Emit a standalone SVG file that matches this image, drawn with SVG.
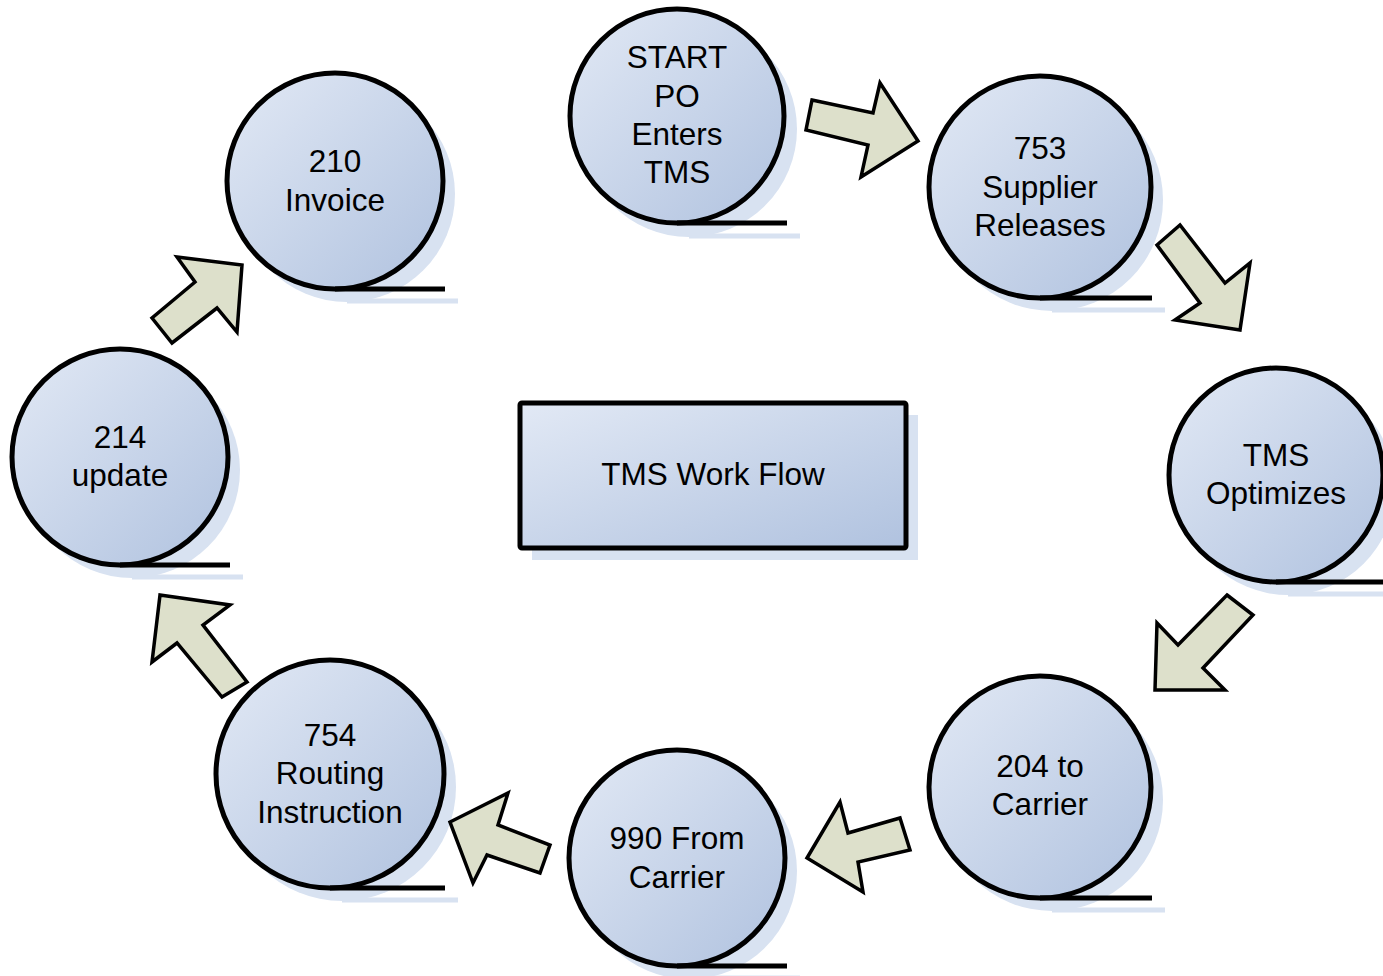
<svg xmlns="http://www.w3.org/2000/svg" width="1383" height="976" viewBox="0 0 1383 976">
<defs>
<linearGradient id="g" x1="0" y1="0" x2="1" y2="1">
<stop offset="0" stop-color="#e2e9f5"/>
<stop offset="1" stop-color="#b0c2df"/>
</linearGradient>
</defs>
<style>
.sh{fill:#d8e2f1;stroke:none}
.shl{stroke:#d8e2f1;stroke-width:5;fill:none}
.c{fill:url(#g);stroke:#000;stroke-width:5}
.l{stroke:#000;stroke-width:5;fill:none}
.t{font-family:"Liberation Sans",Arial,sans-serif;font-size:31.5px;fill:#000;text-anchor:middle}
.a{fill:#dde0cb;stroke:#000;stroke-width:3.5;stroke-linejoin:miter}
</style>
<rect width="1383" height="976" fill="#fff"/>

<g id="node-box">
<rect class="sh" x="532" y="415" width="386" height="145"/>
<rect class="c" x="520" y="403" width="386" height="145" rx="2"/>
<text class="t" x="713" y="485">TMS Work Flow</text>
</g>

<g id="node-start">
<circle class="sh" cx="689" cy="129" r="108"/>
<line class="shl" x1="689" y1="236" x2="800" y2="236"/>
<circle class="c" cx="677" cy="116" r="107"/>
<line class="l" x1="677" y1="223" x2="787" y2="223"/>
<text class="t" x="677" y="68">START</text>
<text class="t" x="677" y="107">PO</text>
<text class="t" x="677" y="145">Enters</text>
<text class="t" x="677" y="183">TMS</text>
</g>

<g id="node-753">
<circle class="sh" cx="1052" cy="200" r="111"/>
<line class="shl" x1="1052" y1="310" x2="1165" y2="310"/>
<circle class="c" cx="1040" cy="187" r="111"/>
<line class="l" x1="1040" y1="298" x2="1152" y2="298"/>
<text class="t" x="1040" y="159">753</text>
<text class="t" x="1040" y="198">Supplier</text>
<text class="t" x="1040" y="236">Releases</text>
</g>

<g id="node-tms">
<circle class="sh" cx="1288" cy="488" r="107"/>
<line class="shl" x1="1288" y1="594" x2="1395" y2="594"/>
<circle class="c" cx="1276" cy="475" r="107"/>
<line class="l" x1="1276" y1="582" x2="1385" y2="582"/>
<text class="t" x="1276" y="466">TMS</text>
<text class="t" x="1276" y="504">Optimizes</text>
</g>

<g id="node-204">
<circle class="sh" cx="1052" cy="800" r="111"/>
<line class="shl" x1="1052" y1="910" x2="1165" y2="910"/>
<circle class="c" cx="1040" cy="787" r="111"/>
<line class="l" x1="1040" y1="898" x2="1152" y2="898"/>
<text class="t" x="1040" y="777">204 to</text>
<text class="t" x="1040" y="815">Carrier</text>
</g>

<g id="node-990">
<circle class="sh" cx="689" cy="871" r="108"/>
<line class="shl" x1="689" y1="978" x2="800" y2="978"/>
<circle class="c" cx="677" cy="858" r="108"/>
<line class="l" x1="677" y1="966" x2="787" y2="966"/>
<text class="t" x="677" y="849">990 From</text>
<text class="t" x="677" y="888">Carrier</text>
</g>

<g id="node-754">
<circle class="sh" cx="342" cy="787" r="114"/>
<line class="shl" x1="342" y1="900" x2="458" y2="900"/>
<circle class="c" cx="330" cy="774" r="114"/>
<line class="l" x1="330" y1="888" x2="445" y2="888"/>
<text class="t" x="330" y="746">754</text>
<text class="t" x="330" y="784">Routing</text>
<text class="t" x="330" y="823">Instruction</text>
</g>

<g id="node-214">
<circle class="sh" cx="132" cy="470" r="108"/>
<line class="shl" x1="132" y1="577" x2="243" y2="577"/>
<circle class="c" cx="120" cy="457" r="108"/>
<line class="l" x1="120" y1="565" x2="230" y2="565"/>
<text class="t" x="120" y="448">214</text>
<text class="t" x="120" y="486">update</text>
</g>

<g id="node-210">
<circle class="sh" cx="347" cy="194" r="108"/>
<line class="shl" x1="347" y1="301" x2="458" y2="301"/>
<circle class="c" cx="335" cy="181" r="108"/>
<line class="l" x1="335" y1="289" x2="445" y2="289"/>
<text class="t" x="335" y="172">210</text>
<text class="t" x="335" y="211">Invoice</text>
</g>

<g id="connectors">
<polygon class="a" points="812,100 873,113 880,83 918,141 861,177 868,145 806,130"/>
<polygon class="a" points="1157,245 1180,225 1225,283 1250,263 1240,330 1175,320 1200,303"/>
<polygon class="a" points="1227,595 1253,615 1203,668 1225,690 1155,690 1157,623 1178,645"/>
<polygon class="a" points="900,818 910,850 858,862 863,892 807,858 840,802 848,833"/>
<polygon class="a" points="550,845 540,873 487,855 473,883 450,822 508,793 498,825"/>
<polygon class="a" points="247,682 222,697 177,643 152,662 160,595 230,605 203,625"/>
<polygon class="a" points="152,318 172,343 217,308 237,332 242,265 177,257 195,282"/>
</g>
</svg>
